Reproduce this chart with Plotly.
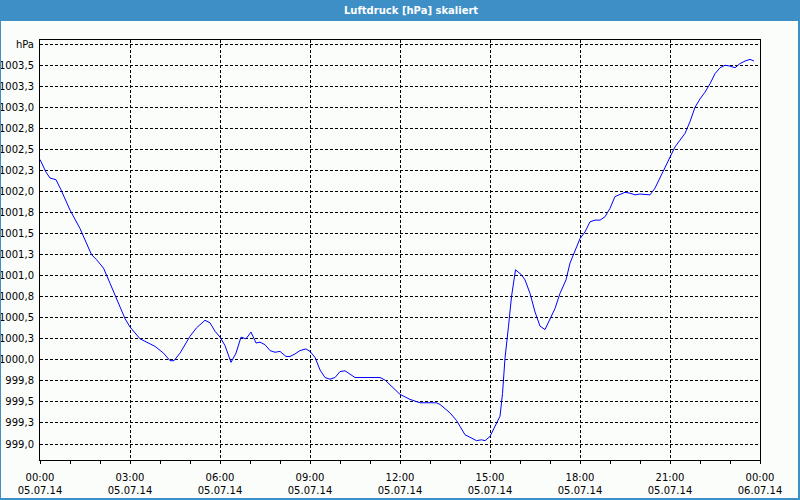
import pandas as pd
import plotly.graph_objects as go

# ---- data ----
times = ["00:00","00:12","00:20","00:32","00:42","01:00","01:20","01:33","01:43","01:53",
         "02:07","02:20","02:37","02:50","03:00","03:20","03:50","04:07","04:20","04:28",
         "04:40","05:00","05:13","05:30","05:40","05:50","06:00","06:10","06:22","06:32",
         "06:42","06:52","07:02","07:12","07:20","07:30","07:40","07:50","08:00","08:12",
         "08:20","08:30","08:40","08:52","09:00","09:10","09:20","09:30","09:40","09:50",
         "10:00","10:10","10:20","10:30","10:40","11:20","11:30","11:40","12:00","12:20",
         "12:40","13:13","13:20","13:40","13:53","14:00","14:10","14:20","14:33","14:43",
         "14:50","15:00","15:10","15:20","15:25","15:30","15:37","15:43","15:51","16:03",
         "16:10","16:20","16:30","16:40","16:50","17:00","17:10","17:20","17:32","17:40",
         "17:50","18:00","18:10","18:20","18:30","18:40","18:50","19:00","19:10","19:20",
         "19:30","19:40","19:50","20:00","20:20","20:30","20:40","20:50","21:00","21:10",
         "21:20","21:30","21:40","21:50","22:00","22:10","22:20","22:30","22:40","22:50",
         "23:00","23:10","23:20","23:30","23:40","23:48"]
pressure = [1002.38,1002.23,1002.16,1002.14,1002.02,1001.78,1001.56,1001.38,1001.25,1001.19,
            1001.09,1000.91,1000.67,1000.49,1000.39,1000.25,1000.16,1000.08,999.99,999.99,
            1000.08,1000.28,1000.38,1000.47,1000.44,1000.34,1000.27,1000.17,999.97,1000.08,
            1000.27,1000.25,1000.33,1000.20,1000.21,1000.18,1000.11,1000.09,1000.10,1000.04,
            1000.04,1000.07,1000.11,1000.13,1000.10,1000.03,999.88,999.79,999.77,999.79,
            999.86,999.87,999.83,999.79,999.79,999.79,999.76,999.70,999.59,999.53,
            999.49,999.49,999.47,999.37,999.28,999.21,999.11,999.08,999.04,999.05,
            999.04,999.09,999.21,999.33,999.60,1000.02,1000.40,1000.75,1001.07,1001.01,
            1000.95,1000.79,1000.57,1000.40,1000.36,1000.49,1000.61,1000.79,1000.95,1001.15,
            1001.30,1001.44,1001.52,1001.64,1001.66,1001.66,1001.70,1001.80,1001.94,1001.97,
            1001.99,1001.98,1001.96,1001.97,1001.96,1002.04,1002.16,1002.28,1002.41,1002.53,
            1002.61,1002.69,1002.83,1003.00,1003.10,1003.18,1003.28,1003.40,1003.47,1003.50,
            1003.49,1003.47,1003.52,1003.55,1003.57,1003.55]

date = "2014-07-05"
x_tick_vals = ["2014-07-05 00:00","2014-07-05 03:00","2014-07-05 06:00","2014-07-05 09:00",
               "2014-07-05 12:00","2014-07-05 15:00","2014-07-05 18:00","2014-07-05 21:00",
               "2014-07-06 00:00"]
x_tick_text = ["00:00<br>05.07.14","03:00<br>05.07.14","06:00<br>05.07.14","09:00<br>05.07.14",
               "12:00<br>05.07.14","15:00<br>05.07.14","18:00<br>05.07.14","21:00<br>05.07.14",
               "00:00<br>06.07.14"]
y_tick_vals = [999.0,999.25,999.5,999.75,1000.0,1000.25,1000.5,1000.75,1001.0,1001.25,
               1001.5,1001.75,1002.0,1002.25,1002.5,1002.75,1003.0,1003.25,1003.5,1003.75]
y_tick_text = ["999,0","999,3","999,5","999,8","1000,0","1000,3","1000,5","1000,8","1001,0","1001,3",
               "1001,5","1001,8","1002,0","1002,3","1002,5","1002,8","1003,0","1003,3","1003,5","hPa"]
title = "Luftdruck [hPa] skaliert"

x = pd.to_datetime([f"{date} {t}" for t in times])

W, H = 800, 500
ML, MR, MT, MB = 40, 40, 40, 40
PW, PH = W - ML - MR, H - MT - MB

def px(xp):
    return (xp - ML) / PW

def py(yp):
    return (H - MB - yp) / PH

BG = "#FBFDFB"
BLUE = "#3D8FC6"
FONT = "DejaVu Sans"

fig = go.Figure()
fig.add_trace(go.Scatter(x=x, y=pressure, mode="lines",
                         line=dict(color="#0000FF", width=1), hoverinfo="skip",
                         showlegend=False))

fig.update_layout(
    width=W, height=H,
    margin=dict(l=ML, r=MR, t=MT, b=MB, pad=0),
    paper_bgcolor=BG, plot_bgcolor=BG,
    font=dict(family=FONT, size=10, color="#000000"),
    showlegend=False,
    xaxis=dict(
        range=["2014-07-05 00:00", "2014-07-06 00:00"],
        tickmode="array", tickvals=x_tick_vals, ticktext=x_tick_text,
        ticks="outside", ticklen=3, tickcolor="#000000", tickwidth=1,
        ticklabelstandoff=5, automargin=False,
        showgrid=True, gridcolor="#000000", gridwidth=1, griddash="3px,2px",
        showline=True, linecolor="#000000", linewidth=1, mirror=True,
        zeroline=False, fixedrange=True,
        tickfont=dict(family=FONT, size=10, color="#000000"),
        minor=dict(dtick=3600000, tick0="2014-07-05 00:00", ticks="outside",
                   ticklen=3, tickcolor="#000000", showgrid=False),
    ),
    yaxis=dict(
        range=[998.81, 1003.80],
        tickmode="array", tickvals=y_tick_vals, ticktext=y_tick_text,
        ticks="", ticklabelstandoff=3, automargin=False,
        showgrid=True, gridcolor="#000000", gridwidth=1, griddash="3px,2px",
        showline=True, linecolor="#000000", linewidth=1, mirror=True,
        zeroline=False, fixedrange=True,
        tickfont=dict(family=FONT, size=10, color="#000000"),
    ),
    shapes=[
        dict(type="rect", xref="paper", yref="paper",
             x0=px(0), x1=px(W), y0=py(21), y1=py(0),
             fillcolor=BLUE, line=dict(width=0), layer="above"),
        dict(type="rect", xref="paper", yref="paper",
             x0=px(0), x1=px(799), y0=py(499), y1=py(0),
             fillcolor="rgba(0,0,0,0)", line=dict(color=BLUE, width=2), layer="above"),
    ],
    annotations=[
        dict(text="<b>" + title + "</b>", xref="paper", yref="paper",
             x=px(411), y=py(10.5), xanchor="center", yanchor="middle",
             showarrow=False, font=dict(family=FONT, size=10, color="#FFFFFF")),
    ],
)

fig.write_html("out.html", config={"displayModeBar": False})
